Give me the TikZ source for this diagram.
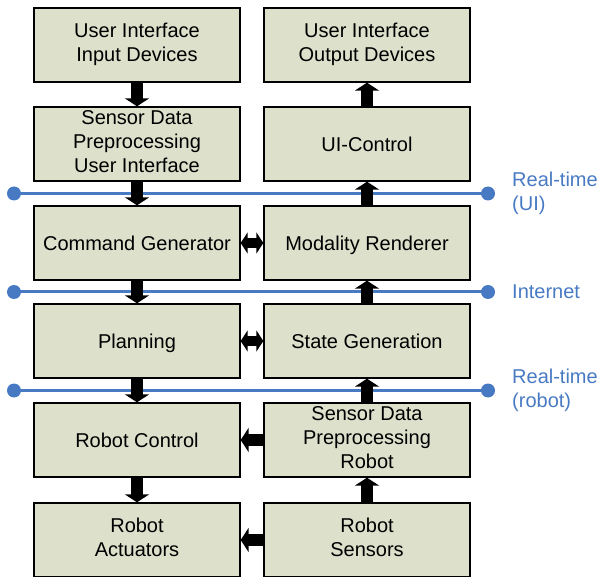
\documentclass[tikz,border=0pt]{standalone}
\usepackage{fontspec}
\setmainfont{Liberation Sans}
\usetikzlibrary{arrows.meta,calc}

\definecolor{boxfill}{RGB}{221,224,203}
\definecolor{busblue}{RGB}{72,122,196}

% strut that centres the capitals in a box
\newcommand{\capstrut}{\rule[-4.8pt]{0pt}{24pt}}

\tikzset{
    block/.style={draw=black, line width=1.3pt, fill=boxfill, minimum width=206pt,
        minimum height=74pt, inner sep=1pt, align=center,
        font=\fontsize{20}{24}\selectfont,
        execute at begin node=\capstrut, execute at end node=\capstrut},
    fat/.style={line width=12pt, -{Triangle[width=24pt,length=8pt]}},
    fatboth/.style={line width=10pt, {Triangle[width=21pt,length=7pt]}-{Triangle[width=21pt,length=7pt]}},
    bus/.style={busblue, line width=3pt},
    buslabel/.style={anchor=west, inner sep=0pt, align=left, text=busblue,
        font=\fontsize{20}{24}\selectfont}
}

\begin{document}
\begin{tikzpicture}[x=1pt,y=1pt]
    \useasboundingbox (0,0) rectangle (599,576);

    % left column: user side down to the robot
    \node[block] (uiin) at (137,531) {User Interface\\Input Devices};
    \node[block] (preui) at (137,432) {Sensor Data\\Preprocessing\\User Interface};
    \node[block] (cmdgen) at (137,333) {Command Generator};
    \node[block] (plan) at (137,235) {Planning};
    \node[block] (robctrl) at (137,136) {Robot Control};
    \node[block] (robact) at (137,36) {Robot\\Actuators};

    % right column: robot feedback back up to the user
    \node[block] (uiout) at (367,531) {User Interface\\Output Devices};
    \node[block] (uictrl) at (367,432) {UI-Control};
    \node[block] (modrend) at (367,333) {Modality Renderer};
    \node[block] (stategen) at (367,235) {State Generation};
    \node[block] (prerob) at (367,136) {Sensor Data\\Preprocessing\\Robot};
    \node[block] (robsens) at (367,36) {Robot\\Sensors};

    % communication layers between the rows
    \foreach \a/\b/\n in {preui/cmdgen/1, cmdgen/plan/2, plan/robctrl/3}{
        \coordinate (bus\n) at ($(\a.south)!0.5!(\b.north)$);
        \draw[bus] ([xshift=-123pt]bus\n) coordinate (busl\n) -- ([xshift=351pt]bus\n) coordinate (busr\n);
        \fill[busblue] (busl\n) circle (7pt) (busr\n) circle (7pt);
    }
    \node[buslabel] at ([xshift=24pt]busr1) {Real-time\\(UI)};
    \node[buslabel] at ([xshift=24pt]busr2) {Internet};
    \node[buslabel] at ([xshift=24pt]busr3) {Real-time\\(robot)};

    % data flow
    \foreach \a/\b in {uiin/preui, preui/cmdgen, cmdgen/plan, plan/robctrl, robctrl/robact,
                       robsens/prerob, prerob/stategen, stategen/modrend, modrend/uictrl, uictrl/uiout,
                       prerob/robctrl, robsens/robact}{
        \draw[fat] (\a) -- (\b);
    }
    \draw[fatboth] (cmdgen) -- (modrend);
    \draw[fatboth] (plan) -- (stategen);
\end{tikzpicture}
\end{document}
